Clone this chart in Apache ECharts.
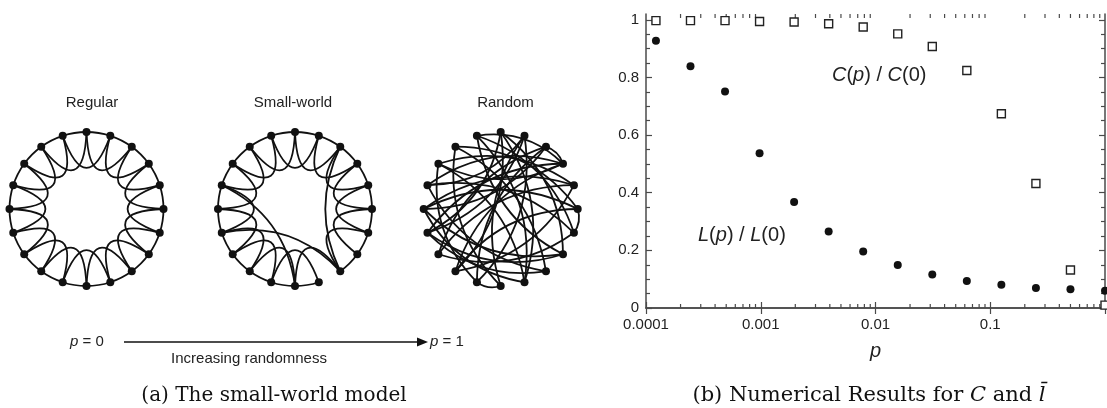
<!DOCTYPE html>
<html><head><meta charset="utf-8">
<script src="https://cdn.jsdelivr.net/npm/echarts@6/dist/echarts.min.js"></script>
<style>html,body{margin:0;padding:0;background:#fff}#c{width:1107px;height:408px}</style>
</head><body><div id="c"></div>
<script>
// ---- data: right panel (p = 2^-13 ... 2^0) ----
const pValues = [0.00012207, 0.00024414, 0.00048828, 0.00097656, 0.00195313, 0.00390625,
                 0.0078125, 0.015625, 0.03125, 0.0625, 0.125, 0.25, 0.5, 1];
const pathLength = [0.927, 0.839, 0.751, 0.537, 0.368, 0.265, 0.196, 0.149, 0.116, 0.094, 0.081, 0.069, 0.065, 0.060];
const clustering = [0.997, 0.997, 0.997, 0.994, 0.992, 0.986, 0.975, 0.951, 0.907, 0.824, 0.674, 0.432, 0.132, 0.010];
const xTickLabels = ['0.0001', '0.001', '0.01', '0.1', '1'];
const yTickValues = [0, 0.2, 0.4, 0.6, 0.8, 1];
const yMinorTickValues = [0.05, 0.1, 0.15, 0.25, 0.3, 0.35, 0.45, 0.5, 0.55, 0.65, 0.7, 0.75, 0.85, 0.9, 0.95];
const xMinorTickValues = [0.0002, 0.0003, 0.0004, 0.0005, 0.0006, 0.0007, 0.0008, 0.0009,
                          0.002, 0.003, 0.004, 0.005, 0.006, 0.007, 0.008, 0.009,
                          0.02, 0.03, 0.04, 0.05, 0.06, 0.07, 0.08, 0.09,
                          0.2, 0.3, 0.4, 0.5, 0.6, 0.7, 0.8, 0.9];
const yMax = 1.02;

// ---- data: left panel networks (20 nodes on a ring, angle in degrees clockwise from top) ----
const nodeAngles = [0, 18, 36, 54, 72, 90, 108, 126, 144, 162, 180, 198, 216, 234, 252, 270, 288, 306, 324, 342];
const regularNear = [[0,1],[1,2],[2,3],[3,4],[4,5],[5,6],[6,7],[7,8],[8,9],[9,10],[10,11],[11,12],[12,13],[13,14],[14,15],[15,16],[16,17],[17,18],[18,19],[19,0]];
const regularSecond = [[0,2],[1,3],[2,4],[3,5],[4,6],[5,7],[6,8],[7,9],[8,10],[9,11],[10,12],[11,13],[12,14],[13,15],[14,16],[15,17],[16,18],[17,19],[18,0],[19,1]];
const smallNear = [[0,1],[1,2],[2,3],[3,4],[4,5],[5,6],[6,7],[7,8],[9,10],[10,11],[11,12],[12,13],[13,14],[14,15],[15,16],[16,17],[17,18],[18,19],[19,0]];
const smallSecond = [[0,2],[1,3],[2,4],[3,5],[4,6],[5,7],[6,8],[8,10],[9,11],[10,12],[11,13],[12,14],[13,15],[14,16],[15,17],[16,18],[17,19],[18,0],[19,1]];
const smallLong = [[2,8,-0.24],[14,8,0.28],[16,10,0.27]];
const randomLinks = [[2,3],[5,6],[10,11],[0,12],[0,7],[1,14],[1,11],[19,6],[19,9],[18,5],[18,8],[17,4],[17,9],[16,6],[16,3],[15,5],[15,4],[14,3],[13,2],[13,4],[12,3],[10,18],[9,15],[8,16],[7,14],[6,13],[4,12],[3,17],[2,15],[0,9],[1,16],[7,19],[11,17],[8,14],[10,1],[12,5],[11,2],[7,15],[0,14],[19,3]];

// ---- texts ----
const panelTitles = ['Regular', 'Small-world', 'Random'];

const INK = '#111';
const FRAME = '#4a4a4a';
const SANS = '"Liberation Sans", Arial, sans-serif';
const SERIF = '"DejaVu Serif", serif';

const nodes = nodeAngles.map((a, i) => ({ name: String(i), value: [1, a] }));
function mk(list, curv) {
  return list.map(l => ({ source: l[0], target: l[1], lineStyle: { curveness: l.length > 2 ? l[2] : curv } }));
}
function graphSeries(idx, links) {
  return {
    type: 'graph', coordinateSystem: 'polar', polarIndex: idx,
    symbol: 'circle', symbolSize: 8, data: nodes, links: links,
    itemStyle: { color: INK, opacity: 1 }, lineStyle: { color: INK, width: 1.8, opacity: 1 },
    label: { show: false }, emphasis: { disabled: true }, silent: true, z: 3
  };
}

const ringCenters = [[86.5, 209], [295, 209], [500.7, 209]];
const ringRadius = 77;

const chart = echarts.init(document.getElementById('c'), null, { renderer: 'canvas' });
const axisLineStyle = { color: FRAME, width: 1.5 };
const option = {
  animation: false,
  backgroundColor: '#fff',
  polar: ringCenters.map(c => ({ center: c, radius: ringRadius })),
  angleAxis: [0, 1, 2].map(i => ({ polarIndex: i, type: 'value', min: 0, max: 360, startAngle: 90, clockwise: true, show: false })),
  radiusAxis: [0, 1, 2].map(i => ({ polarIndex: i, type: 'value', min: 0, max: 1, show: false })),
  grid: { left: 646, right: 2, top: 14, bottom: 100, containLabel: false, outerBoundsMode: 'none' },
  xAxis: [
    { type: 'log', logBase: 10, min: 0.0001, max: 1, position: 'bottom',
      axisLine: { lineStyle: axisLineStyle }, axisTick: { inside: true, length: 6, lineStyle: { color: FRAME, width: 1.2 } },
      axisLabel: { color: '#222', fontFamily: SANS, fontSize: 15, margin: 9, showMaxLabel: false,
                   formatter: v => xTickLabels[Math.round(Math.log10(v)) + 4] },
      splitLine: { show: false },
      name: 'p', nameLocation: 'middle', nameGap: 33,
      nameTextStyle: { fontStyle: 'italic', fontSize: 20, fontFamily: SANS, color: '#222' } },
    { type: 'log', logBase: 10, min: 0.0001, max: 1, position: 'top',
      axisLine: { lineStyle: axisLineStyle }, axisTick: { inside: true, length: 6, lineStyle: { color: FRAME, width: 1.2 } },
      axisLabel: { show: false }, splitLine: { show: false } }
  ],
  yAxis: [
    { type: 'value', min: 0, max: yMax, position: 'left',
      axisLine: { show: true, lineStyle: axisLineStyle },
      axisTick: { inside: true, length: 6, customValues: yTickValues, lineStyle: { color: FRAME, width: 1.2 } },
      axisLabel: { customValues: yTickValues, color: '#222', fontFamily: SANS, fontSize: 15, margin: 7 },
      splitLine: { show: false } },
    { type: 'value', min: 0, max: yMax, position: 'right',
      axisLine: { show: true, lineStyle: axisLineStyle },
      axisTick: { inside: true, length: 6, customValues: yTickValues, lineStyle: { color: FRAME, width: 1.2 } },
      axisLabel: { show: false }, splitLine: { show: false } },
    { type: 'value', min: 0, max: yMax, position: 'left',
      axisLine: { show: false },
      axisTick: { inside: true, length: 4, customValues: yMinorTickValues, lineStyle: { color: FRAME, width: 1.2 } },
      axisLabel: { show: false }, splitLine: { show: false } },
    { type: 'value', min: 0, max: yMax, position: 'right',
      axisLine: { show: false },
      axisTick: { inside: true, length: 4, customValues: yMinorTickValues, lineStyle: { color: FRAME, width: 1.2 } },
      axisLabel: { show: false }, splitLine: { show: false } }
  ],
  series: [
    graphSeries(0, mk(regularNear, 0.08).concat(mk(regularSecond, -1.35))),
    graphSeries(1, mk(smallNear, 0.08).concat(mk(smallSecond, -1.35)).concat(mk(smallLong, 0))),
    graphSeries(2, mk(randomLinks, 0.25)),
    { type: 'custom', xAxisIndex: 0, yAxisIndex: 0, silent: true, clip: false,
      data: xMinorTickValues.map(v => [v, 0]), encode: { x: 0, y: 1 },
      renderItem: (params, api) => {
        const b = api.coord([api.value(0), 0]);
        const t = api.coord([api.value(0), yMax]);
        const st = { stroke: FRAME, lineWidth: 1.2 };
        return { type: 'group', children: [
          { type: 'line', shape: { x1: b[0], y1: b[1], x2: b[0], y2: b[1] - 4 }, style: st },
          { type: 'line', shape: { x1: t[0], y1: t[1], x2: t[0], y2: t[1] + 4 }, style: st }
        ] };
      } },
    { type: 'scatter', xAxisIndex: 0, yAxisIndex: 0, symbol: 'rect', symbolSize: 8,
      data: pValues.map((p, i) => [p, clustering[i]]),
      itemStyle: { color: '#fff', borderColor: '#222', borderWidth: 1.4, opacity: 1 }, z: 4 },
    { type: 'scatter', xAxisIndex: 0, yAxisIndex: 0, symbol: 'circle', symbolSize: 8,
      data: pValues.map((p, i) => [p, pathLength[i]]),
      itemStyle: { color: INK, opacity: 1 }, z: 4 }
  ],
  graphic: [
    { type: 'text', x: 92, y: 103, style: { text: panelTitles[0], font: '15px ' + SANS, fill: '#222', align: 'center', verticalAlign: 'middle' } },
    { type: 'text', x: 293, y: 103, style: { text: panelTitles[1], font: '15px ' + SANS, fill: '#222', align: 'center', verticalAlign: 'middle' } },
    { type: 'text', x: 505.5, y: 103, style: { text: panelTitles[2], font: '15px ' + SANS, fill: '#222', align: 'center', verticalAlign: 'middle' } },
    { type: 'line', shape: { x1: 124, y1: 342, x2: 420, y2: 342 }, style: { stroke: INK, lineWidth: 1.5 } },
    { type: 'polygon', shape: { points: [[417, 337.5], [428, 342], [417, 346.5]] }, style: { fill: INK } },
    { type: 'text', x: 70, y: 342, style: { text: '{i|p} = 0', font: '15px ' + SANS, fill: '#222', align: 'left', verticalAlign: 'middle',
        rich: { i: { fontStyle: 'italic', fontSize: 15, fontFamily: SANS, fill: '#222' } } } },
    { type: 'text', x: 430, y: 342, style: { text: '{i|p} = 1', font: '15px ' + SANS, fill: '#222', align: 'left', verticalAlign: 'middle',
        rich: { i: { fontStyle: 'italic', fontSize: 15, fontFamily: SANS, fill: '#222' } } } },
    { type: 'text', x: 249, y: 359, style: { text: 'Increasing randomness', font: '15px ' + SANS, fill: '#222', align: 'center', verticalAlign: 'middle' } },
    { type: 'text', x: 274, y: 396, style: { text: '(a) The small-world model', font: '20px ' + SERIF, fill: INK, align: 'center', verticalAlign: 'middle' } },
    { type: 'text', x: 869, y: 396, style: { text: '(b) Numerical Results for {i|C} and {i|l\u0304}', font: '21px ' + SERIF, fill: INK, align: 'center', verticalAlign: 'middle',
        rich: { i: { fontStyle: 'italic', fontSize: 21, fontFamily: SERIF, fill: INK } } } },
    { type: 'text', x: 832, y: 75, z: 10, style: { text: '{i|C}({i|p}) / {i|C}(0)', font: '20px ' + SANS, fill: '#222', align: 'left', verticalAlign: 'middle',
        rich: { i: { fontStyle: 'italic', fontSize: 20, fontFamily: SANS, fill: '#222' } } } },
    { type: 'text', x: 698, y: 235, z: 10, style: { text: '{i|L}({i|p}) / {i|L}(0)', font: '20px ' + SANS, fill: '#222', align: 'left', verticalAlign: 'middle',
        rich: { i: { fontStyle: 'italic', fontSize: 20, fontFamily: SANS, fill: '#222' } } } }
  ]
};
chart.setOption(option);
</script>
</body></html>
